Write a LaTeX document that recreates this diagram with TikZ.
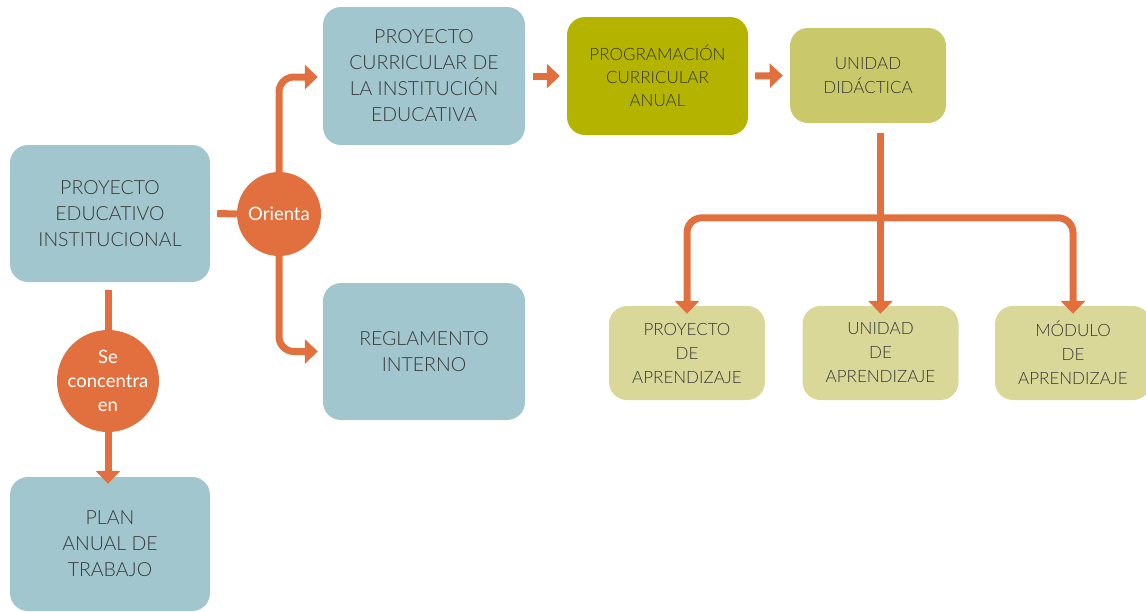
\documentclass[tikz,border=0pt]{standalone}
\usepackage{fontspec}
\setmainfont{Lato}[UprightFont=* Light, BoldFont=*]
\usetikzlibrary{arrows.meta,calc}
\definecolor{boxblue}{HTML}{A2C6CD}
\definecolor{olive}{HTML}{B3B300}
\definecolor{olivelight}{HTML}{C9C96B}
\definecolor{olivepale}{HTML}{D9D898}
\definecolor{orng}{HTML}{E2703F}
\definecolor{txt}{HTML}{383838}
\tikzset{
  box/.style={rectangle, rounded corners=18pt, inner sep=0pt, align=center, text=txt},
  bigbox/.style={box, fill=boxblue, minimum width=200pt, minimum height=137pt, font=\fontsize{19.5}{26}\selectfont},
  pcabox/.style={box, fill=olive, minimum width=181pt, minimum height=118pt, font=\fontsize{17}{23}\selectfont},
  udbox/.style={box, fill=olivelight, minimum width=156pt, minimum height=95pt, font=\fontsize{17}{24}\selectfont},
  smallbox/.style={box, fill=olivepale, minimum width=156pt, minimum height=94pt, font=\fontsize{17}{24}\selectfont},
  circ/.style={circle, fill=orng, text=white, inner sep=0pt, align=center},
  conn/.style={draw=orng, line width=7pt, rounded corners=15pt},
  arr/.style={conn, -{Triangle[width=24pt,length=13pt]}},
}
\begin{document}
\begin{tikzpicture}[x=1pt,y=1pt]
\useasboundingbox (0,0) rectangle (1146,-611);
% boxes
\node[bigbox] (pei) at (110,-213.5) {PROYECTO\\EDUCATIVO\\INSTITUCIONAL};
\node[bigbox, minimum height=134pt] (plan) at (110,-544) {PLAN\\ANUAL DE\\TRABAJO};
\node[bigbox, minimum width=202pt, minimum height=138pt] (pcie) at (424,-76) {PROYECTO\\CURRICULAR DE\\LA INSTITUCIÓN\\EDUCATIVA};
\node[bigbox, minimum width=202pt] (reg) at (424,-351.5) {REGLAMENTO\\INTERNO};
\node[pcabox] (pca) at (657.5,-76) {PROGRAMACIÓN\\CURRICULAR\\ANUAL};
\node[udbox] (ud) at (868,-75.5) {UNIDAD\\DIDÁCTICA};
\node[smallbox] (b1) at (687,-353) {PROYECTO\\DE\\APRENDIZAJE};
\node[smallbox] (b2) at (880.5,-353) {UNIDAD\\DE\\APRENDIZAJE};
\node[smallbox] (b3) at (1073,-353) {MÓDULO\\DE\\APRENDIZAJE};
% circles
\node[circ, minimum size=84pt, font=\fontsize{18.5}{22}\selectfont\bfseries] (or) at (279,-214) {Orienta};
\node[circ, minimum size=102pt, font=\fontsize{18.5}{24}\selectfont\bfseries] (se) at (108,-381) {Se\\concentra\\en};
% connectors
\draw[conn] ($(pei.east)+(7,0)$) -- (or.west);
\draw[arr] (or.north) |- ($(pcie.west)+(-5,-1)$);
\draw[arr] (or.south) |- ($(reg.west)+(-5,0)$);
\draw[conn] ($(pei.south -| se.north)+(0,-8)$) -- (se.north);
\draw[arr] (se.south) -- ($(plan.north -| se.south)+(0,-7)$);
\draw[arr] ($(pcie.east)+(8,0)$) -- ($(pca.west)+(-7,0)$);
\draw[arr] ($(pca.east)+(7,0)$) -- ($(ud.west)+(-7,0)$);
\coordinate (udtop) at ($(ud.south -| b2.north)+(0,-10)$);
\coordinate (j) at ($(udtop)!0.49!(b2.north)$);
\draw[arr] (udtop) -- ($(b2.north)+(0,-8)$);
\draw[arr] (j) -| ($(b1.north)+(0,-8)$);
\draw[arr] (j) -| ($(b3.north)+(0,-8)$);
\end{tikzpicture}
\end{document}
